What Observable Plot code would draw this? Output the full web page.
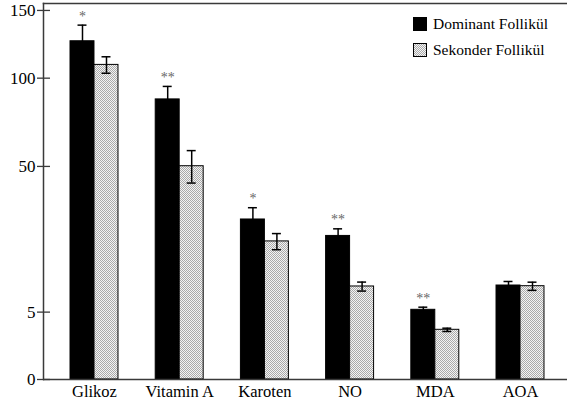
<!DOCTYPE html>
<html>
<head>
<meta charset="utf-8">
<script src="https://cdn.jsdelivr.net/npm/d3@7"></script>
<script src="https://cdn.jsdelivr.net/npm/@observablehq/plot@0.6"></script>
<style>
  html, body { margin: 0; padding: 0; background: white; }
  #wrap { position: relative; width: 567px; height: 403px; font-family: 'Liberation Serif', serif; }
  #wrap svg, #wrap svg text { font-family: 'Liberation Serif', serif !important; }
  #legend { position: absolute; left: 413px; top: 17px; font-size: 15.5px; color: #000; font-family: 'Liberation Serif', serif; }
  .item { display: flex; align-items: center; height: 14px; margin-bottom: 11.5px; white-space: nowrap; }
  .sw { width: 12px; height: 12px; border: 1px solid #000; margin-right: 6px; flex: none; }
  .dom { background: #000; }
  .sek { background-color: #d8d8d8; background-image: repeating-conic-gradient(#aaaaaa 0 25%, #f4f4f4 0 50%); background-size: 2px 2px; }
</style>
</head>
<body>
<div id="wrap"><div id="legend"></div></div>
<script>
const categories = ["Glikoz", "Vitamin A", "Karoten", "NO", "MDA", "AOA"];
const seriesNames = ["Dominant Follikül", "Sekonder Follikül"];
const dominant = [126, 86.4, 28.2, 22.7, 5.35, 9.73];
const dominantErr = [12.3, 8.2, 4.3, 2.3, 0.41, 0.85];
const sekonder = [109, 50.1, 21.0, 9.53, 2.72, 9.59];
const sekonderErr = [5.7, 7.6, 2.45, 0.92, 0.18, 0.84];
const significance = ["*", "**", "*", "**", "**", ""];
const yTicks = [0, 5, 50, 100, 150];

const domRows = categories.map((c, i) => ({category: c, value: dominant[i], err: dominantErr[i], sig: significance[i]}));
const sekRows = categories.map((c, i) => ({category: c, value: sekonder[i], err: sekonderErr[i]}));

const lineColor = "#3a3a3a";
const serif = "'Liberation Serif', serif";

const chart = Plot.plot({
  width: 567,
  height: 403,
  marginLeft: 43,
  marginRight: 0,
  marginTop: 3,
  marginBottom: 24,
  style: {fontFamily: serif, fontSize: "16.5px", background: "white", color: "#000"},
  x: {domain: categories, range: [43, 571], paddingInner: 0.437, paddingOuter: 0.317, round: false, label: null},
  y: {type: "sqrt", domain: [0, 155.7], label: null},
  marks: [
    Plot.barY(domRows, {x: "category", y: "value", fill: "#000", stroke: "#000", strokeWidth: 1, insetRight: 24}),
    Plot.barY(sekRows, {x: "category", y: "value", fill: "url(#sekPattern)", stroke: "#000", strokeWidth: 1, insetLeft: 24}),
    Plot.ruleX(domRows, {x: "category", y1: d => d.value - d.err, y2: d => d.value + d.err, dx: -12, stroke: "#000", strokeWidth: 1.5}),
    Plot.ruleX(sekRows, {x: "category", y1: d => d.value - d.err, y2: d => d.value + d.err, dx: 12, stroke: "#000", strokeWidth: 1.5}),
    Plot.tickY(domRows, {x: "category", y: d => d.value + d.err, insetLeft: 7.5, insetRight: 31.5, stroke: "#000", strokeWidth: 1.5}),
    Plot.tickY(sekRows, {x: "category", y: d => d.value + d.err, insetLeft: 31.5, insetRight: 7.5, stroke: "#000", strokeWidth: 1.5}),
    Plot.tickY(sekRows, {x: "category", y: d => d.value - d.err, insetLeft: 31.5, insetRight: 7.5, stroke: "#000", strokeWidth: 1.5}),
    Plot.text(domRows, {x: "category", y: d => d.value + d.err, text: "sig", dx: -12, dy: -9, lineAnchor: "middle", fill: "#666", fontSize: 14, fontFamily: serif}),
    Plot.frame({anchor: "left", stroke: lineColor, strokeWidth: 1.5}),
    Plot.frame({anchor: "top", stroke: lineColor, strokeWidth: 1.5}),
    Plot.ruleY([0], {stroke: lineColor, strokeWidth: 1.5}),
    Plot.axisY({ticks: yTicks, tickSize: 13, dx: 7, tickFormat: () => "", stroke: lineColor, strokeWidth: 1.3, label: null}),
    Plot.axisY({ticks: yTicks, tickFormat: d => String(d), tickSize: 0, tickPadding: 8, fontSize: 17, fontFamily: serif, fill: "#000", label: null}),
    Plot.axisX({tickSize: 0, tickPadding: 6, fontSize: 16.5, fontFamily: serif, fill: "#000", label: null})
  ]
});

// pattern for the sekonder bars
const ns = "http://www.w3.org/2000/svg";
const defs = document.createElementNS(ns, "defs");
defs.innerHTML = '<pattern id="sekPattern" width="2" height="2" patternUnits="userSpaceOnUse">' +
  '<rect width="2" height="2" fill="#f4f4f4"/>' +
  '<rect width="1" height="1" fill="#aaaaaa"/>' +
  '<rect x="1" y="1" width="1" height="1" fill="#aaaaaa"/></pattern>';
chart.insertBefore(defs, chart.firstChild);

const wrap = document.getElementById("wrap");
wrap.insertBefore(chart, wrap.firstChild);

const legend = document.getElementById("legend");
seriesNames.forEach((name, i) => {
  const item = document.createElement("div");
  item.className = "item";
  const sw = document.createElement("span");
  sw.className = "sw " + (i === 0 ? "dom" : "sek");
  const label = document.createElement("span");
  label.textContent = name;
  item.appendChild(sw);
  item.appendChild(label);
  legend.appendChild(item);
});
</script>
</body>
</html>
